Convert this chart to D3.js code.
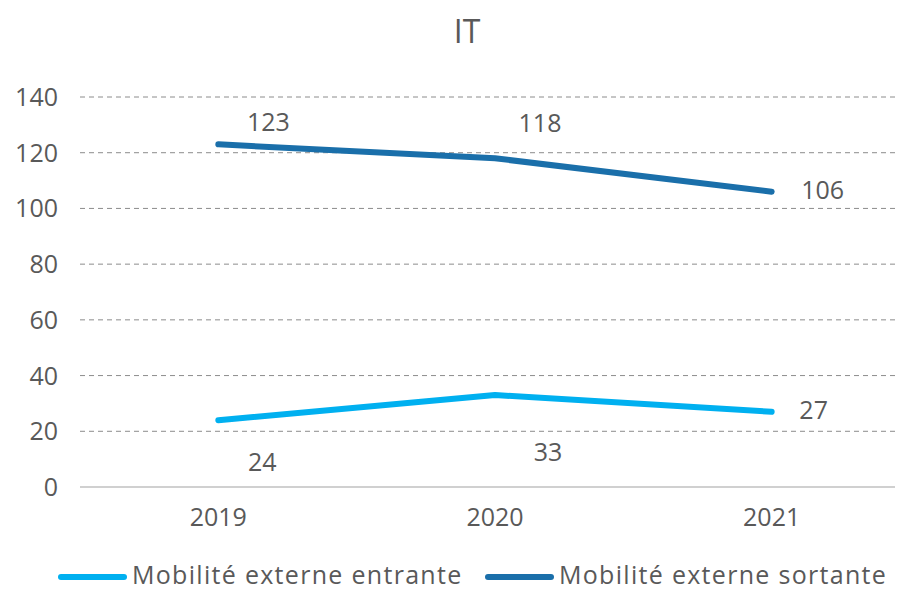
<!DOCTYPE html>
<html>
<head>
<meta charset="UTF-8" />
<title>IT</title>
<script src="https://cdn.jsdelivr.net/npm/d3@7"></script>
<style>
  body { margin: 0; background: #fff; }
  text { font-family: "Open Sans", Roboto, sans-serif; fill: #595959; }
</style>
</head>
<body>
<svg id="chart"></svg>
<script>
// data
const years = ["2019", "2020", "2021"];
const entrante = [24, 33, 27];
const sortante = [123, 118, 106];
const yTicks = [0, 20, 40, 60, 80, 100, 120, 140];
const seriesNames = ["Mobilité externe entrante", "Mobilité externe sortante"];

const width = 904, height = 590;
const svg = d3.select("#chart").attr("width", width).attr("height", height);

const x = d3.scalePoint().domain(years).range([80, 910]).padding(0.5);
const y = d3.scaleLinear().domain([0, 140]).range([487, 97]);

// title
svg.append("text")
   .attr("x", 467).attr("y", 43)
   .attr("text-anchor", "middle")
   .style("font-size", "32px")
   .text("IT");

// grid lines
svg.selectAll(".grid")
   .data(yTicks.filter(d => d > 0))
   .enter()
   .append("line")
   .attr("x1", 80).attr("x2", 895)
   .attr("y1", d => y(d)).attr("y2", d => y(d))
   .attr("stroke", "#8c8c8c")
   .attr("stroke-width", 1)
   .attr("stroke-dasharray", "5,4");

// x axis line
svg.append("line")
   .attr("x1", 80).attr("x2", 895)
   .attr("y1", y(0)).attr("y2", y(0))
   .attr("stroke", "#d0d0d0")
   .attr("stroke-width", 2);

// y tick labels
svg.selectAll(".ylab")
   .data(yTicks)
   .enter()
   .append("text")
   .attr("x", 58)
   .attr("y", d => y(d) + 9)
   .attr("text-anchor", "end")
   .style("font-size", "25px")
   .text(d => d);

// x labels
svg.selectAll(".xlab")
   .data(years)
   .enter()
   .append("text")
   .attr("x", d => x(d))
   .attr("y", 526)
   .attr("text-anchor", "middle")
   .style("font-size", "25px")
   .text(d => d);

const colors = ["#00b0f0", "#1a6faa"];
const line = d3.line().x((d, i) => x(years[i])).y(d => y(d));

[entrante, sortante].forEach((vals, k) => {
    svg.append("path")
       .datum(vals)
       .attr("d", line)
       .attr("fill", "none")
       .attr("stroke", colors[k])
       .attr("stroke-width", 6)
       .attr("stroke-linecap", "round")
       .attr("stroke-linejoin", "round");
});

// data labels (offsets from the point: dx, baseline dy)
const entOff = [[44, 51], [53, 66], [42, 7]];
const sorOff = [[50, -13], [45, -26], [51, 7]];
entrante.forEach((v, i) => {
    svg.append("text")
       .attr("x", x(years[i]) + entOff[i][0])
       .attr("y", y(v) + entOff[i][1])
       .attr("text-anchor", "middle")
       .style("font-size", "25px")
       .text(v);
});
sortante.forEach((v, i) => {
    svg.append("text")
       .attr("x", x(years[i]) + sorOff[i][0])
       .attr("y", y(v) + sorOff[i][1])
       .attr("text-anchor", "middle")
       .style("font-size", "25px")
       .text(v);
});

// legend
const legX = [58, 485];
seriesNames.forEach((name, k) => {
    svg.append("line")
       .attr("x1", legX[k] + 3).attr("x2", legX[k] + 66)
       .attr("y1", 577).attr("y2", 577)
       .attr("stroke", colors[k])
       .attr("stroke-width", 6)
       .attr("stroke-linecap", "round");
    svg.append("text")
       .attr("x", legX[k] + 74)
       .attr("y", 584)
       .style("font-size", "25px")
       .style("letter-spacing", "1.3px")
       .text(name);
});
</script>
</body>
</html>
